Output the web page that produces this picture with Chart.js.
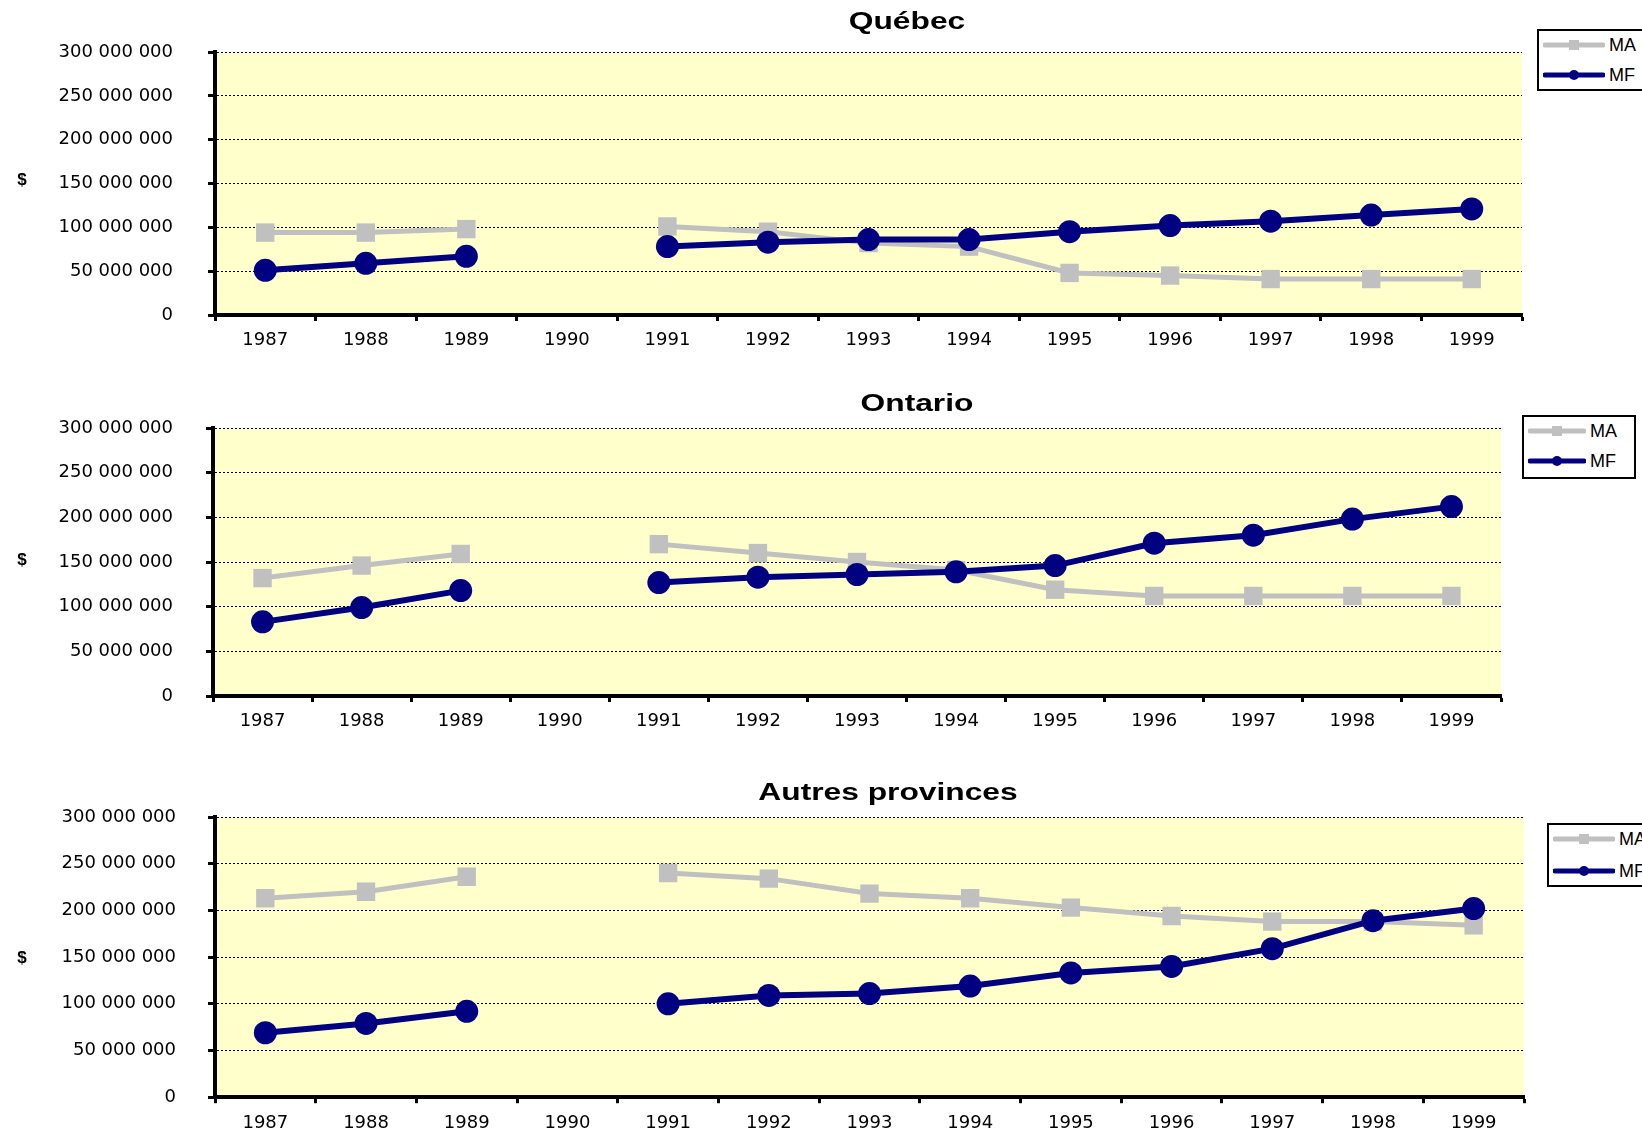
<!DOCTYPE html>
<html>
<head>
<meta charset="utf-8">
<script src="https://cdn.jsdelivr.net/npm/chart.js@4.4.0/dist/chart.umd.min.js"></script>
<style>
  body { margin: 0; width: 1642px; height: 1140px; overflow: hidden; background: #fff; position: relative; font-family: "Liberation Sans", Arial, sans-serif; }
  canvas { position: absolute; left: 0; }
  .title { position: absolute; font-weight: bold; font-size: 23px; white-space: nowrap; transform: translate(-50%, -50%) scaleX(1.38); color: #000; }
  .unit { position: absolute; font-weight: bold; font-size: 17px; transform: translate(-50%, -50%); color: #000; }
  .legend { position: absolute; border: 2px solid #000; background: #fff; box-sizing: border-box; }
  .legend .row { position: absolute; left: 4px; height: 20px; display: flex; align-items: center; font-size: 18px; color: #000; white-space: nowrap; }
  .legend .row span { margin-left: 4px; }
</style>
</head>
<body>
<canvas id="quebec" width="1642" height="370" style="top:0px"></canvas>
<canvas id="ontario" width="1642" height="370" style="top:370px"></canvas>
<canvas id="autres" width="1642" height="400" style="top:740px"></canvas>

<script>
// categories
const years = ["1987", "1988", "1989", "1990", "1991", "1992", "1993", "1994", "1995", "1996", "1997", "1998", "1999"];

// values in millions of $ (1990 missing)
const quebecMA = [94, 94, 98, null, 101, 95, 82, 78, 48, 45, 41, 41, 41];
const quebecMF = [51, 59, 67, null, 78, 83, 86, 86, 95, 102, 107, 114, 121];

const ontarioMA = [132, 146, 159, null, 170, 160, 150, 141, 119, 112, 112, 112, 112];
const ontarioMF = [83, 99, 118, null, 127, 133, 136, 139, 146, 171, 180, 198, 212];

const autresMA = [213, 220, 236, null, 240, 234, 218, 213, 203, 194, 188, 188, 184];
const autresMF = [69, 79, 92, null, 100, 109, 111, 119, 133, 140, 159, 189, 202];

const yMax = 300000000;
const yStep = 50000000;

const maColor = "#C0C0C0";
const mfColor = "#000080";

const toDollars = (arr) => arr.map((v) => (v === null ? null : v * 1000000));
const fmt = (v) => String(v).replace(/\B(?=(\d{3})+(?!\d))/g, " ");

const plotBg = {
  id: "plotBg",
  beforeDraw(chart) {
    const { ctx, chartArea: a } = chart;
    ctx.save();
    ctx.fillStyle = "#FFFFCC";
    ctx.fillRect(a.left, a.top, a.right - a.left, a.bottom - a.top);
    ctx.restore();
  },
};

const tickFont = { family: "DejaVu Sans", size: 18 };

function makeChart(id, ma, mf, box) {
  const ctx = document.getElementById(id).getContext("2d");
  const chart = new Chart(ctx, {
    type: "line",
    data: {
      labels: years,
      datasets: [
        {
          label: "MA",
          data: toDollars(ma),
          borderColor: maColor,
          backgroundColor: maColor,
          borderWidth: 5,
          pointStyle: "rect",
          pointRadius: 13,
          pointBorderWidth: 0,
          order: 2,
          spanGaps: false,
        },
        {
          label: "MF",
          data: toDollars(mf),
          borderColor: mfColor,
          backgroundColor: mfColor,
          borderWidth: 6,
          pointStyle: "circle",
          pointRadius: 11.5,
          pointBorderWidth: 0,
          order: 1,
          spanGaps: false,
        },
      ],
    },
    options: {
      responsive: false,
      animation: false,
      devicePixelRatio: 1,
      layout: { padding: { left: 0, right: box.right, top: box.top, bottom: box.bottom } },
      plugins: { legend: { display: false }, tooltip: { enabled: false }, title: { display: false } },
      scales: {
        x: {
          offset: true,
          grid: { offset: true, drawOnChartArea: false, drawTicks: true, tickLength: 6, tickWidth: 3, tickColor: "#000" },
          border: { display: true, color: "#000", width: 4 },
          ticks: { color: "#000", font: tickFont, padding: 9, maxRotation: 0, autoSkip: false },
          afterFit(s) { s.height = box.xh; },
        },
        y: {
          min: 0,
          max: yMax,
          grid: { color: "#000", lineWidth: 1, drawTicks: true, tickLength: 7, tickWidth: 3, tickColor: "#000" },
          border: { display: true, color: "#000", width: 4, dash: [2, 2] },
          ticks: { stepSize: yStep, color: "#000", font: tickFont, padding: box.labelPad, callback: (v) => fmt(v) },
          afterFit(s) { s.width = box.left; },
        },
      },
    },
    plugins: [plotBg],
  });
  return chart;
}

function addText(cls, text, x, y) {
  const d = document.createElement("div");
  d.className = cls;
  d.textContent = text;
  d.style.left = x + "px";
  d.style.top = y + "px";
  document.body.appendChild(d);
}

function addLegend(chart, x, y, w, h, rows, lineW) {
  const lg = document.createElement("div");
  lg.className = "legend";
  lg.style.left = x + "px";
  lg.style.top = y + "px";
  lg.style.width = w + "px";
  lg.style.height = h + "px";
  chart.data.datasets.forEach((ds, i) => {
    const row = document.createElement("div");
    row.className = "row";
    row.style.top = rows[i] - 10 + "px";
    const mid = lineW / 2;
    const mark = ds.pointStyle === "rect"
      ? `<rect x="${mid - 5}" y="5" width="10" height="10" fill="${ds.borderColor}"/>`
      : `<circle cx="${mid}" cy="10" r="5" fill="${ds.borderColor}"/>`;
    row.innerHTML =
      `<svg width="${lineW}" height="20"><line x1="2" y1="10" x2="${lineW - 2}" y2="10" stroke="${ds.borderColor}" stroke-width="5" stroke-linecap="round"/>${mark}</svg>` +
      `<span>${ds.label}</span>`;
    lg.appendChild(row);
  });
  document.body.appendChild(lg);
}

const q = makeChart("quebec", quebecMA, quebecMF, { left: 215, right: 120, top: 52, bottom: 15, xh: 40, labelPad: 35 });
const o = makeChart("ontario", ontarioMA, ontarioMF, { left: 213, right: 141, top: 58, bottom: 4, xh: 40, labelPad: 33 });
const a = makeChart("autres", autresMA, autresMF, { left: 215, right: 118, top: 77, bottom: 0, xh: 36, labelPad: 32 });

addText("title", "Québec", 907, 21);
addText("title", "Ontario", 917, 403);
addText("title", "Autres provinces", 888, 792);

addText("unit", "$", 22, 180);
addText("unit", "$", 22, 560);
addText("unit", "$", 22, 958);

addLegend(q, 1537, 29, 110, 62, [14, 44], 62);
addLegend(o, 1522, 415, 114, 64, [14, 44], 58);
addLegend(a, 1547, 823, 110, 64, [14, 46], 62);
</script>
</body>
</html>
